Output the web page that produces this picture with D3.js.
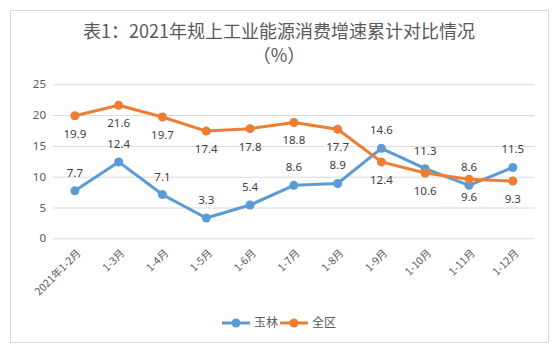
<!DOCTYPE html>
<html>
<head>
<meta charset="utf-8">
<script src="https://cdn.jsdelivr.net/npm/d3@7"></script>
<style>
  body { margin: 0; background: #fff; }
  text { font-family: "Noto Sans CJK SC", "Noto Sans", sans-serif; }
</style>
</head>
<body>
<div id="chart"></div>
<script>
// categories and series
const categories = ['2021年1-2月', '1-3月', '1-4月', '1-5月', '1-6月', '1-7月', '1-8月', '1-9月', '1-10月', '1-11月', '1-12月'];
const yulin = [7.7, 12.4, 7.1, 3.3, 5.4, 8.6, 8.9, 14.6, 11.3, 8.6, 11.5];
const quanqu = [19.9, 21.6, 19.7, 17.4, 17.8, 18.8, 17.7, 12.4, 10.6, 9.6, 9.3];
const yTicks = [0, 5, 10, 15, 20, 25];

const series = [
  { name: '玉林', values: yulin, color: '#5B9BD5', labelDy: -14 },
  { name: '全区', values: quanqu, color: '#ED7D31', labelDy: 22 }
];

const width = 560, height = 353;
const marginLeft = 53, plotRight = 534.7, plotTop = 84.3, plotBottom = 238.3;

const svg = d3.select('#chart').append('svg')
  .attr('width', width)
  .attr('height', height)
  .attr('viewBox', [0, 0, width, height]);

// chart frame
svg.append('rect')
  .attr('x', 10.5).attr('y', 10.5)
  .attr('width', 538).attr('height', 332)
  .attr('fill', '#fff')
  .attr('stroke', '#d9d9d9');

// title
const title = svg.append('text')
  .attr('text-anchor', 'middle')
  .attr('fill', '#595959')
  .attr('font-size', 18);
title.append('tspan').attr('x', 279).attr('y', 38).text('表1：2021年规上工业能源消费增速累计对比情况');
title.append('tspan').attr('x', 279).attr('y', 62).text('（%）');

const x = d3.scaleBand()
  .domain(categories)
  .range([marginLeft, plotRight]);

const y = d3.scaleLinear()
  .domain([0, 25])
  .range([plotBottom, plotTop]);

const cx = d => x(d) + x.bandwidth() / 2;

// y axis with gridlines
svg.append('g')
  .attr('transform', `translate(${marginLeft},0)`)
  .call(d3.axisLeft(y).tickValues(yTicks).tickSize(-(plotRight - marginLeft)).tickPadding(7))
  .call(g => g.select('.domain').remove())
  .call(g => g.selectAll('.tick line').attr('stroke', '#d9d9d9'))
  .call(g => g.selectAll('.tick text')
    .attr('fill', '#595959')
    .attr('font-size', 11.5)
    .style('font-family', '"Noto Sans", sans-serif'));

// x axis labels, rotated
svg.append('g')
  .selectAll('text')
  .data(categories)
  .join('text')
    .attr('transform', d => `translate(${cx(d) + 4},${plotBottom + 13}) rotate(-45)`)
    .attr('text-anchor', 'end')
    .attr('dy', '0.35em')
    .attr('fill', '#595959')
    .attr('font-size', 10.5)
    .text(d => d);

const line = d3.line()
  .x((d, i) => cx(categories[i]))
  .y(d => y(d));

series.forEach(s => {
  const g = svg.append('g');
  g.append('path')
    .datum(s.values)
    .attr('fill', 'none')
    .attr('stroke', s.color)
    .attr('stroke-width', 3)
    .attr('stroke-linejoin', 'round')
    .attr('d', line);

  g.selectAll('circle')
    .data(s.values)
    .join('circle')
      .attr('cx', (d, i) => cx(categories[i]))
      .attr('cy', d => y(d))
      .attr('r', 4.5)
      .attr('fill', s.color);
});

// data labels drawn last so they sit on top
series.forEach(s => {
  svg.append('g')
    .selectAll('text')
    .data(s.values)
    .join('text')
      .attr('x', (d, i) => cx(categories[i]))
      .attr('y', d => y(d) + s.labelDy)
      .attr('text-anchor', 'middle')
      .attr('fill', '#404040')
      .attr('font-size', 11.5)
      .style('font-family', '"Noto Sans", sans-serif')
      .text(d => d.toFixed(1));
});

// legend
const legendItems = [
  { name: '玉林', color: '#5B9BD5', x0: 222 },
  { name: '全区', color: '#ED7D31', x0: 280 }
];
const legend = svg.append('g');
legendItems.forEach(l => {
  const ly = 323;
  legend.append('line')
    .attr('x1', l.x0).attr('x2', l.x0 + 28)
    .attr('y1', ly).attr('y2', ly)
    .attr('stroke', l.color)
    .attr('stroke-width', 3);
  legend.append('circle')
    .attr('cx', l.x0 + 14).attr('cy', ly)
    .attr('r', 4.5)
    .attr('fill', l.color);
  legend.append('text')
    .attr('x', l.x0 + 32).attr('y', ly)
    .attr('dy', '0.35em')
    .attr('fill', '#595959')
    .attr('font-size', 12)
    .text(l.name);
});
</script>
</body>
</html>
